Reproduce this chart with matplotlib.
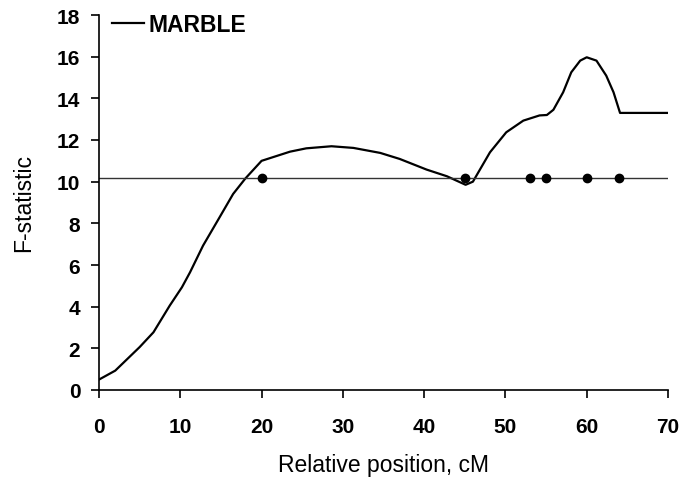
import matplotlib
matplotlib.use("Agg")
import matplotlib.pyplot as plt

plt.rcParams['font.family'] = ['Liberation Sans', 'DejaVu Sans']

# F-statistic profile
pos = [0, 2, 5.0, 6.7, 8.7, 10.2, 11.2, 12.8, 14.7, 16.5, 18.0, 20.0, 23.5, 25.5, 28.6,
       31.3, 34.6, 37.0, 40.3, 42.8, 45.1, 46.0, 48.1, 50.1, 52.2, 54.2, 55.1, 55.9,
       57.1, 58.1, 59.2, 60.0, 61.2, 62.4, 63.3, 64.1, 70]
fstat = [0.5, 0.93, 2.06, 2.77, 4.05, 4.93, 5.65, 6.93, 8.2, 9.41, 10.15, 11.0, 11.44, 11.6, 11.7,
         11.62, 11.38, 11.09, 10.58, 10.26, 9.85, 10.0, 11.41, 12.37, 12.93, 13.18, 13.2, 13.45,
         14.29, 15.25, 15.81, 15.97, 15.81, 15.09, 14.29, 13.3, 13.3]
threshold = 10.2
marker_pos = [20, 45, 53, 55, 60, 64]

xticks = [0, 10, 20, 30, 40, 50, 60, 70]
yticks = [0, 2, 4, 6, 8, 10, 12, 14, 16, 18]

fig = plt.figure(figsize=(6.81, 4.89), dpi=100)
ax = fig.add_axes([99/681, 1 - 391/489, (668-99)/681, (391-16)/489])

ax.plot(pos, fstat, color='black', lw=1.6, label='MARBLE')
ax.axhline(threshold, color='#333333', lw=1.0)
ax.plot(marker_pos, [threshold]*len(marker_pos), 'o', color='black', ms=6, ls='none')

ax.set_xlim(0, 70)
ax.set_ylim(0, 18)
ax.set_xticks(xticks)
ax.set_yticks(yticks)
for s in ['top', 'right']:
    ax.spines[s].set_visible(False)
for s in ['left', 'bottom']:
    ax.spines[s].set_linewidth(1.2)
ax.tick_params(direction='out', length=5.5, width=1.2, labelsize=15)
for lab in ax.get_xticklabels() + ax.get_yticklabels():
    lab.set_fontweight('bold')
ax.tick_params(axis='x', pad=14)
ax.tick_params(axis='y', pad=8)

ax.set_xlabel('Relative position, cM', fontsize=16.5, labelpad=12)
ax.set_ylabel('F-statistic', fontsize=16.5, labelpad=16)

leg = ax.legend(loc='upper left', frameon=False, handlelength=1.4, handletextpad=0.2,
                prop={'weight': 'bold', 'size': 16.5}, borderaxespad=0.0,
                bbox_to_anchor=(0.006, 1.03))

fig.savefig('out.png', dpi=100)
